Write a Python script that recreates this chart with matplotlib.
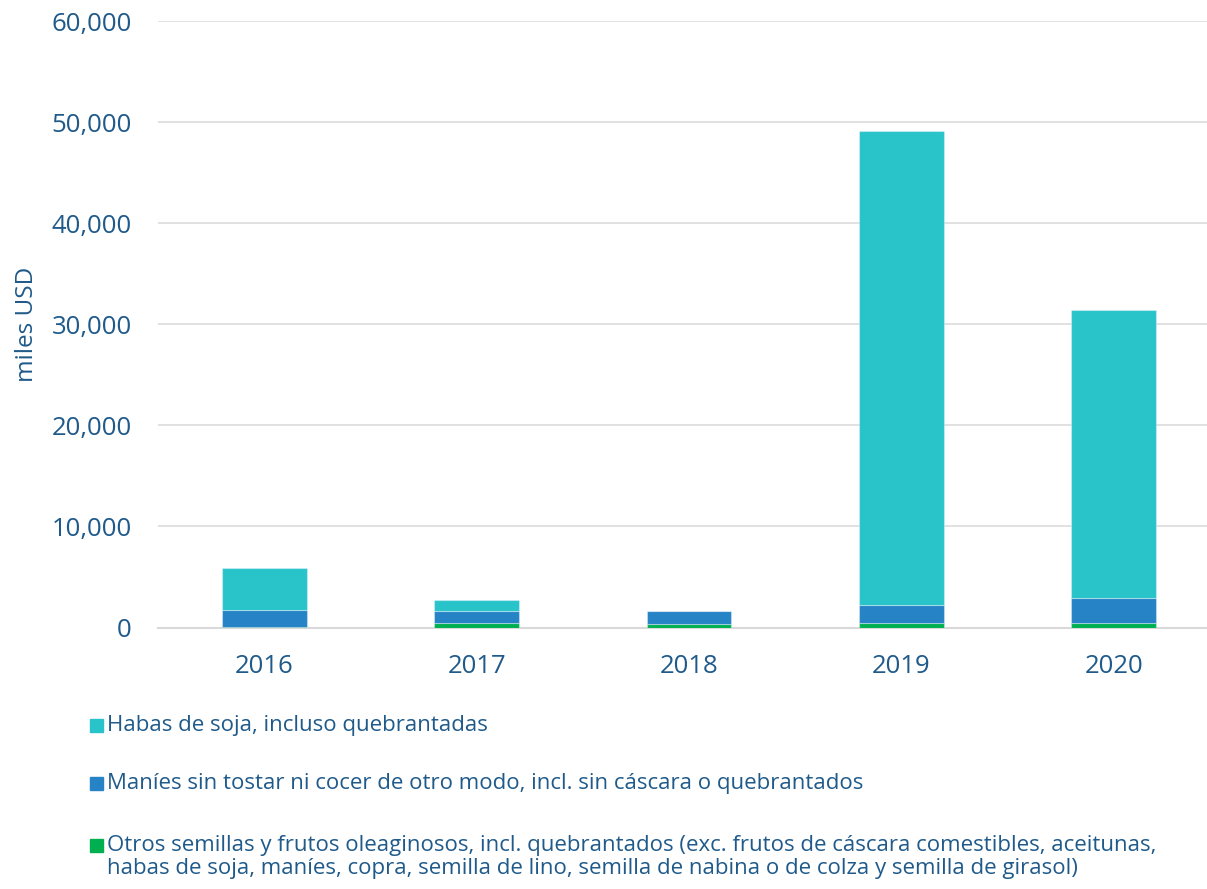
import matplotlib.pyplot as plt
from matplotlib.patches import Rectangle
import numpy as np

plt.rcParams['font.family'] = ['Open Sans', 'DejaVu Sans']

years = ['2016', '2017', '2018', '2019', '2020']
# miles USD
otros = [20, 460, 300, 460, 400]
manies = [1690, 1150, 1350, 1750, 2500]
soja = [4190, 1090, 0, 46940, 28500]

labels = [
    'Habas de soja, incluso quebrantadas',
    'Maníes sin tostar ni cocer de otro modo, incl. sin cáscara o quebrantados',
    'Otros semillas y frutos oleaginosos, incl. quebrantados (exc. frutos de cáscara comestibles, aceitunas,\n'
    'habas de soja, maníes, copra, semilla de lino, semilla de nabina o de colza y semilla de girasol)',
]
colors = ['#29C3CA', '#2683C6', '#00B050']
text_color = '#1F5A8A'

W, H = 1207, 889
fig = plt.figure(figsize=(W / 100, H / 100), dpi=100)
# plot area in pixels: x 158..1220, y 21..627.5
ax = fig.add_axes([158 / W, 1 - 627.5 / H, 1062 / W, (627.5 - 21) / H])

x = np.arange(len(years))
bottom = np.zeros(len(years))
for vals, col in [(otros, colors[2]), (manies, colors[1]), (soja, colors[0])]:
    ax.bar(x, vals, width=0.4, bottom=bottom, color=col,
           edgecolor=(1, 1, 1, 0.35), linewidth=0.8, zorder=3)
    bottom += np.array(vals)

ax.set_xlim(-0.5, len(years) - 0.5)
ax.set_ylim(0, 60000)
ax.set_yticks(range(0, 60001, 10000))
ax.set_yticklabels([f'{v:,}' for v in range(0, 60001, 10000)])
ax.set_xticks(x)
ax.set_xticklabels(years)
ax.grid(axis='y', color='#D9D9D9', linewidth=1.1, zorder=0)
for s in ['top', 'right', 'left']:
    ax.spines[s].set_visible(False)
ax.spines['bottom'].set_color('#D9D9D9')
ax.spines['bottom'].set_linewidth(1.5)
ax.tick_params(length=0, labelsize=18.5, labelcolor=text_color)
ax.tick_params(axis='y', pad=19)
ax.tick_params(axis='x', pad=19)
ax.set_ylabel('miles USD', fontsize=17.5, color=text_color, labelpad=9)

# legend drawn by hand so the square lines up with the first text line
leg_y = [725, 783, 845]
for lab, col, yy in zip(labels, colors, leg_y):
    fig.patches.append(Rectangle((90 / W, 1 - (yy + 7) / H), 13 / W, 13 / H,
                                 transform=fig.transFigure, color=col))
    if '\n' in lab:
        fig.text(107 / W, 1 - (yy - 10) / H, lab, fontsize=16, color=text_color,
                 va='top', ha='left', linespacing=1.15)
    else:
        fig.text(107 / W, 1 - yy / H, lab, fontsize=16, color=text_color,
                 va='center', ha='left')

fig.savefig('out.png', dpi=100)
